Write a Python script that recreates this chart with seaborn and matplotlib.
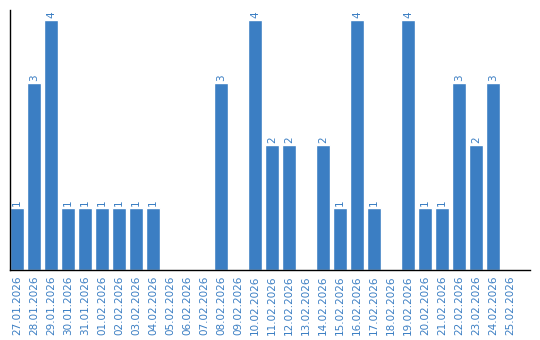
import matplotlib
matplotlib.use("Agg")
import matplotlib.pyplot as plt
import seaborn as sns
import pandas as pd

dates = ["27.01.2026", "28.01.2026", "29.01.2026", "30.01.2026", "31.01.2026",
         "01.02.2026", "02.02.2026", "03.02.2026", "04.02.2026", "05.02.2026",
         "06.02.2026", "07.02.2026", "08.02.2026", "09.02.2026", "10.02.2026",
         "11.02.2026", "12.02.2026", "13.02.2026", "14.02.2026", "15.02.2026",
         "16.02.2026", "17.02.2026", "18.02.2026", "19.02.2026", "20.02.2026",
         "21.02.2026", "22.02.2026", "23.02.2026", "24.02.2026", "25.02.2026"]
counts = [1, 3, 4, 1, 1, 1, 1, 1, 1, 0,
          0, 0, 3, 0, 4, 2, 2, 0, 2, 1,
          4, 1, 0, 4, 1, 1, 3, 2, 3, 0]

df = pd.DataFrame({"date": dates, "count": counts})
blue = "#3b7ec3"

sns.set_style("white")
plt.rcParams['font.family'] = ['DejaVu Sans']

fig = plt.figure(figsize=(5.4, 3.4), dpi=100)
ax = fig.add_axes([10/540, 70/340, 520/540, 260/340])
sns.barplot(data=df, x="date", y="count", color=blue, saturation=1, width=0.82, ax=ax)

for i, v in enumerate(counts):
    if v > 0:
        ax.text(i, v + 0.03, str(v), rotation=90, ha="center", va="bottom",
                color=blue, fontsize=7.5)

ax.set_xlim(-0.41, 30.18)
ax.set_ylim(0, 4.16)
ax.set_xlabel("")
ax.set_ylabel("")
ax.set_yticks([])
ax.tick_params(axis="x", length=0, pad=4, labelsize=7.5, labelcolor=blue)
plt.setp(ax.get_xticklabels(), rotation=90)
for s in ["top", "right"]:
    ax.spines[s].set_visible(False)
for s in ["left", "bottom"]:
    ax.spines[s].set_color("black")
    ax.spines[s].set_linewidth(1.0)

fig.savefig("out.png", dpi=100)
